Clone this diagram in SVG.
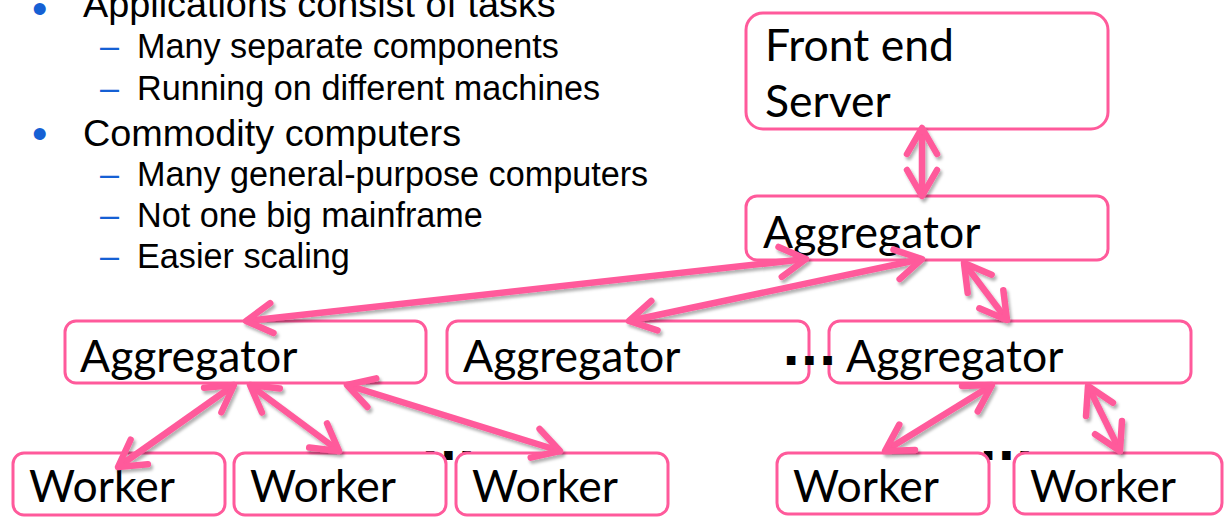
<svg xmlns="http://www.w3.org/2000/svg" width="1225" height="520" viewBox="0 0 1225 520">
  <style>
    .bullet { font-family: "Liberation Sans", Arial, sans-serif; fill: #000; }
    .l1 { font-size: 37.8px; }
    .l2 { font-size: 34.2px; }
    .mark { fill: #1560d4; }
    .dot { font-size: 44px; }
    .box { fill: #fff; stroke: #ff5a9b; stroke-width: 3; }
    .label { font-family: Lato, "Open Sans", sans-serif; font-size: 44.5px; fill: #000; }
    .dots { font-family: "DejaVu Sans", sans-serif; font-weight: bold; font-size: 48px; fill: #000; }
    .link { fill: none; stroke: #ff5a9b; stroke-width: 6.5; marker-start: url(#chev); marker-end: url(#chev); }
  </style>
  <defs>
    <marker id="chev" markerUnits="userSpaceOnUse" markerWidth="40" markerHeight="40" refX="0" refY="0" orient="auto-start-reverse" overflow="visible">
      <path d="M-26,-15 L0,0 L-26,15" fill="none" stroke="#ff5a9b" stroke-width="6.5" stroke-linecap="round" stroke-linejoin="round"/>
    </marker>
    <filter id="shadow" x="-10%" y="-10%" width="120%" height="130%">
      <feDropShadow dx="2" dy="3" stdDeviation="1.8" flood-color="#000" flood-opacity="0.3"/>
    </filter>
  </defs>

  <!-- bullet list -->
  <g id="bullets" class="bullet">
    <text class="mark dot" x="32" y="24">•</text>
    <text class="l1" x="83" y="17">Applications consist of tasks</text>
    <text class="mark l2" x="100" y="58">–</text>
    <text class="l2" x="137" y="58">Many separate components</text>
    <text class="mark l2" x="100" y="100">–</text>
    <text class="l2" x="137" y="100">Running on different machines</text>
    <text class="mark dot" x="32" y="149">•</text>
    <text class="l1" x="83" y="146">Commodity computers</text>
    <text class="mark l2" x="100" y="186">–</text>
    <text class="l2" x="137" y="186">Many general-purpose computers</text>
    <text class="mark l2" x="100" y="227">–</text>
    <text class="l2" x="137" y="227">Not one big mainframe</text>
    <text class="mark l2" x="100" y="268">–</text>
    <text class="l2" x="137" y="268">Easier scaling</text>
  </g>

  <!-- ellipses between sibling nodes (partly covered by worker boxes) -->
  <g id="ellipses">
    <text class="dots" x="421" y="460">...</text>
    <text class="dots" x="979" y="460">...</text>
  </g>

  <g id="frontend">
    <rect class="box" x="746" y="13" width="362" height="116" rx="17"/>
    <text class="label" x="765" y="61">Front end</text>
    <text class="label" x="765" y="117">Server</text>
  </g>
  <g id="agg-top">
    <rect class="box" x="746" y="196" width="362" height="64" rx="11"/>
    <text class="label" x="763" y="248">Aggregator</text>
  </g>
  <g id="agg-left">
    <rect class="box" x="65" y="321" width="361" height="62" rx="11"/>
    <text class="label" x="80" y="372">Aggregator</text>
  </g>
  <g id="agg-mid">
    <rect class="box" x="447" y="321" width="362" height="62" rx="11"/>
    <text class="label" x="463" y="372">Aggregator</text>
  </g>
  <g id="agg-right">
    <rect class="box" x="829" y="321" width="362" height="62" rx="11"/>
    <text class="label" x="846" y="372">Aggregator</text>
  </g>
  <g id="worker-1">
    <rect class="box" x="13" y="453" width="212" height="62" rx="11"/>
    <text class="label" x="29" y="502">Worker</text>
  </g>
  <g id="worker-2">
    <rect class="box" x="234" y="453" width="212" height="62" rx="11"/>
    <text class="label" x="250" y="502">Worker</text>
  </g>
  <g id="worker-3">
    <rect class="box" x="456" y="453" width="212" height="62" rx="11"/>
    <text class="label" x="472" y="502">Worker</text>
  </g>
  <g id="worker-4">
    <rect class="box" x="777" y="453" width="212" height="61" rx="11"/>
    <text class="label" x="793" y="502">Worker</text>
  </g>
  <g id="worker-5">
    <rect class="box" x="1014" y="453" width="208" height="61" rx="11"/>
    <text class="label" x="1030" y="502">Worker</text>
  </g>

  <!-- dots between middle and right aggregators sit over the box edges -->
  <g id="ellipsis-agg">
    <text class="dots" x="782" y="365">...</text>
  </g>

  <!-- bidirectional connectors -->
  <g id="connectors" filter="url(#shadow)">
    <line class="link" x1="922" y1="128" x2="922" y2="196"/>
    <line class="link" x1="806" y1="259" x2="246" y2="321"/>
    <line class="link" x1="922" y1="259" x2="629" y2="321"/>
    <line class="link" x1="964" y1="263" x2="1007" y2="320"/>
    <line class="link" x1="234" y1="385" x2="118" y2="467"/>
    <line class="link" x1="250" y1="385" x2="339" y2="451"/>
    <line class="link" x1="347" y1="385" x2="560" y2="451"/>
    <line class="link" x1="992" y1="385" x2="885" y2="451"/>
    <line class="link" x1="1088" y1="386" x2="1120" y2="451"/>
  </g>
</svg>
